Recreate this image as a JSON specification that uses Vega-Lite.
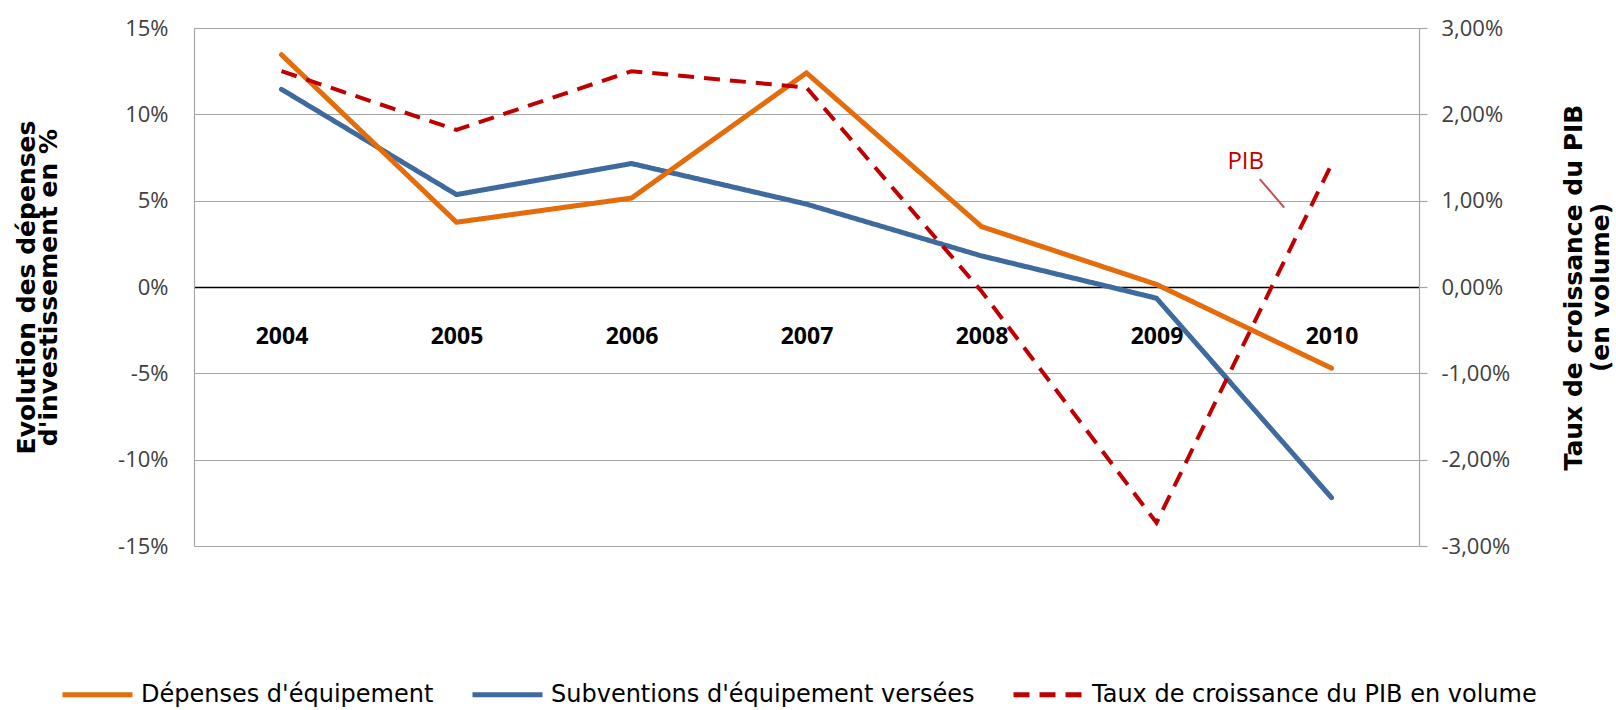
{
  "$schema": "https://vega.github.io/schema/vega-lite/v6.json",
  "width": 1225,
  "height": 518,
  "autosize": {"type": "none"},
  "padding": {"left": 194, "top": 28, "right": 197, "bottom": 164},
  "background": "white",
  "config": {"view": {"stroke": null}, "font": "Open Sans"},
  "datasets": {
    "series": [
      {"annee": 2004, "serie": "Subventions d'équipement versées", "axe": "gauche", "valeur": 11.45},
      {"annee": 2005, "serie": "Subventions d'équipement versées", "axe": "gauche", "valeur": 5.35},
      {"annee": 2006, "serie": "Subventions d'équipement versées", "axe": "gauche", "valeur": 7.15},
      {"annee": 2007, "serie": "Subventions d'équipement versées", "axe": "gauche", "valeur": 4.8},
      {"annee": 2008, "serie": "Subventions d'équipement versées", "axe": "gauche", "valeur": 1.8},
      {"annee": 2009, "serie": "Subventions d'équipement versées", "axe": "gauche", "valeur": -0.65},
      {"annee": 2010, "serie": "Subventions d'équipement versées", "axe": "gauche", "valeur": -12.2},
      {"annee": 2004, "serie": "Dépenses d'équipement", "axe": "gauche", "valeur": 13.45},
      {"annee": 2005, "serie": "Dépenses d'équipement", "axe": "gauche", "valeur": 3.75},
      {"annee": 2006, "serie": "Dépenses d'équipement", "axe": "gauche", "valeur": 5.15},
      {"annee": 2007, "serie": "Dépenses d'équipement", "axe": "gauche", "valeur": 12.4},
      {"annee": 2008, "serie": "Dépenses d'équipement", "axe": "gauche", "valeur": 3.5},
      {"annee": 2009, "serie": "Dépenses d'équipement", "axe": "gauche", "valeur": 0.15},
      {"annee": 2010, "serie": "Dépenses d'équipement", "axe": "gauche", "valeur": -4.7},
      {"annee": 2004, "serie": "Taux de croissance du PIB en volume", "axe": "droite", "valeur": 2.5},
      {"annee": 2005, "serie": "Taux de croissance du PIB en volume", "axe": "droite", "valeur": 1.82},
      {"annee": 2006, "serie": "Taux de croissance du PIB en volume", "axe": "droite", "valeur": 2.5},
      {"annee": 2007, "serie": "Taux de croissance du PIB en volume", "axe": "droite", "valeur": 2.31},
      {"annee": 2008, "serie": "Taux de croissance du PIB en volume", "axe": "droite", "valeur": -0.05},
      {"annee": 2009, "serie": "Taux de croissance du PIB en volume", "axe": "droite", "valeur": -2.73},
      {"annee": 2010, "serie": "Taux de croissance du PIB en volume", "axe": "droite", "valeur": 1.42}
    ],
    "annot": [{"annee": 2009.51, "valeur": 1.45, "label": "PIB"}],
    "leader": [{"annee": 2009.59, "valeur": 1.25, "annee2": 2009.73, "valeur2": 0.92}]
  },
  "layer": [
    {
      "data": {"name": "series"},
      "transform": [{"filter": "datum.axe == 'gauche'"}],
      "mark": {"type": "line", "strokeWidth": 5, "strokeJoin": "round", "strokeCap": "round"},
      "encoding": {
        "x": {
          "field": "annee", "type": "quantitative",
          "scale": {"domain": [2003.5, 2010.5], "nice": false, "zero": false},
          "axis": {
            "orient": "bottom", "offset": -259, "values": [2004, 2005, 2006, 2007, 2008, 2009, 2010],
            "format": "d", "grid": false, "ticks": false, "domain": true, "domainColor": "black",
            "domainWidth": 1.5, "labelPadding": 38, "labelFont": "Open Sans", "labelFontWeight": "bold",
            "labelFontSize": 23, "labelColor": "black", "title": null
          }
        },
        "y": {
          "field": "valeur", "type": "quantitative",
          "scale": {"domain": [-15, 15], "nice": false, "zero": false},
          "axis": {
            "orient": "left", "values": [-15, -10, -5, 0, 5, 10, 15],
            "labelExpr": "datum.value + '%'", "grid": true, "gridColor": "#A6A6A6", "gridWidth": 1.2,
            "domain": true, "domainColor": "#A6A6A6", "domainWidth": 1.2, "ticks": false, "tickSize": 0,
            "labelPadding": 26, "labelFont": "Open Sans", "labelFontSize": 22, "labelColor": "#404040",
            "title": ["Evolution des dépenses", "d'investissement en %"],
            "titleFont": "DejaVu Sans", "titleFontWeight": "bold", "titleFontSize": 25,
            "titleLineHeight": 22, "titleColor": "black", "titlePadding": 56
          }
        },
        "color": {
          "field": "serie", "type": "nominal",
          "scale": {
            "domain": ["Dépenses d'équipement", "Subventions d'équipement versées", "Taux de croissance du PIB en volume"],
            "range": ["#E46C0A", "#3E6A9E", "#C00000"]
          },
          "legend": {
            "orient": "none", "legendX": -134, "legendY": 629, "direction": "horizontal", "title": null,
            "symbolType": "stroke", "symbolSize": 4900, "symbolStrokeWidth": 5,
            "labelFont": "DejaVu Sans", "labelFontSize": 24, "labelColor": "black",
            "labelOffset": 6, "columnPadding": 28, "padding": 0, "labelLimit": 0
          }
        },
        "strokeDash": {
          "field": "serie", "type": "nominal",
          "scale": {
            "domain": ["Dépenses d'équipement", "Subventions d'équipement versées", "Taux de croissance du PIB en volume"],
            "range": [[1, 0], [1, 0], [16, 10]]
          },
          "legend": {
            "orient": "none", "legendX": -134, "legendY": 629, "direction": "horizontal", "title": null,
            "symbolType": "stroke", "symbolSize": 4900, "symbolStrokeWidth": 5,
            "labelFont": "DejaVu Sans", "labelFontSize": 24, "labelColor": "black",
            "labelOffset": 6, "columnPadding": 28, "padding": 0, "labelLimit": 0
          }
        }
      }
    },
    {
      "layer": [
        {
          "data": {"name": "series"},
          "transform": [{"filter": "datum.axe == 'droite'"}],
          "mark": {"type": "line", "strokeWidth": 4},
          "encoding": {
            "x": {"field": "annee", "type": "quantitative", "scale": {"domain": [2003.5, 2010.5], "nice": false, "zero": false}},
            "y": {
              "field": "valeur", "type": "quantitative",
              "scale": {"domain": [-3, 3], "nice": false, "zero": false},
              "axis": {
                "orient": "right", "values": [-3, -2, -1, 0, 1, 2, 3],
                "labelExpr": "(datum.value < 0 ? '-' : '') + replace(format(abs(datum.value), '.2f'), '.', ',') + '%'",
                "grid": false, "domain": true, "domainColor": "#A6A6A6", "domainWidth": 1.2,
                "ticks": true, "tickColor": "#A6A6A6", "tickSize": 8, "tickWidth": 1.2,
                "labelPadding": 14, "labelFont": "Open Sans", "labelFontSize": 22, "labelColor": "#404040",
                "title": ["Taux de croissance du PIB", "(en volume)"],
                "titleAngle": 270, "titleFont": "DejaVu Sans", "titleFontWeight": "bold", "titleFontSize": 25,
                "titleLineHeight": 27, "titleColor": "black", "titlePadding": 50
              }
            },
            "color": {"field": "serie", "type": "nominal"},
            "strokeDash": {"field": "serie", "type": "nominal"}
          }
        },
        {
          "data": {"name": "leader"},
          "mark": {"type": "rule", "color": "#C0504D", "strokeWidth": 2},
          "encoding": {
            "x": {"field": "annee", "type": "quantitative", "scale": {"domain": [2003.5, 2010.5], "nice": false, "zero": false}},
            "x2": {"field": "annee2"},
            "y": {"field": "valeur", "type": "quantitative", "scale": {"domain": [-3, 3], "nice": false, "zero": false}},
            "y2": {"field": "valeur2"}
          }
        },
        {
          "data": {"name": "annot"},
          "mark": {"type": "text", "font": "Open Sans", "fontSize": 24, "color": "#C00000", "align": "center", "baseline": "middle"},
          "encoding": {
            "x": {"field": "annee", "type": "quantitative", "scale": {"domain": [2003.5, 2010.5], "nice": false, "zero": false}},
            "y": {"field": "valeur", "type": "quantitative", "scale": {"domain": [-3, 3], "nice": false, "zero": false}},
            "text": {"field": "label"}
          }
        }
      ]
    }
  ],
  "resolve": {"scale": {"y": "independent"}}
}
